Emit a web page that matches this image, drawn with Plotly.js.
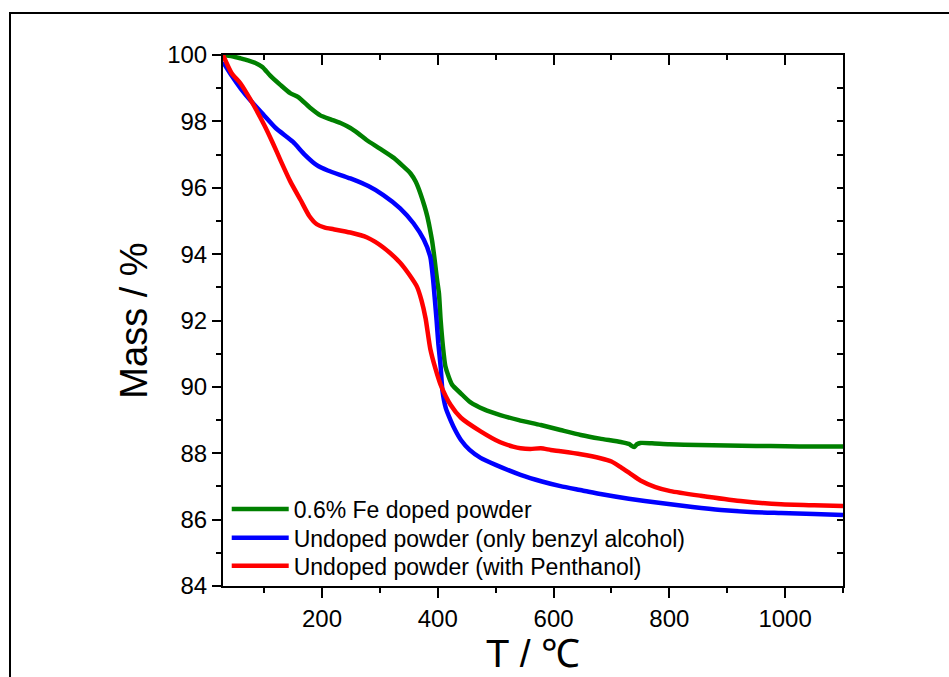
<!DOCTYPE html>
<html>
<head>
<meta charset="utf-8">
<script src="https://cdn.plot.ly/plotly-3.0.1.min.js"></script>
<style>
  html, body { margin: 0; padding: 0; width: 949px; height: 677px; overflow: hidden; background: #fff; }
  #frame { position: absolute; left: 9px; top: 12px; width: 2000px; height: 2000px; border: 2.5px solid #000; box-sizing: border-box; pointer-events: none; z-index: 5; }
  #chart { position: absolute; left: 0; top: 0; width: 949px; height: 677px; }
</style>
</head>
<body>
<div id="chart"></div>
<div id="frame"></div>
<script>
// Temperature (°C) and mass (%)
const greenT = [29, 45, 59, 72, 85, 97, 111, 128, 145, 159, 180, 197, 215, 232, 249, 263, 277, 300, 324, 340, 353, 362, 370, 377, 382, 386, 390, 393, 396, 399, 402, 405, 409, 413, 419, 425, 440, 456, 480, 508, 540, 578, 612, 647, 680, 716, 730, 739, 744, 750, 770, 800, 850, 900, 950, 1000, 1050, 1100];
const greenM = [100.0, 99.96, 99.9, 99.84, 99.76, 99.64, 99.37, 99.1, 98.85, 98.73, 98.4, 98.18, 98.06, 97.95, 97.8, 97.63, 97.44, 97.18, 96.9, 96.65, 96.43, 96.18, 95.83, 95.45, 95.13, 94.8, 94.42, 94.05, 93.62, 93.2, 92.82, 92.0, 91.2, 90.63, 90.3, 90.06, 89.8, 89.54, 89.32, 89.15, 89.0, 88.85, 88.7, 88.55, 88.44, 88.34, 88.28, 88.19, 88.27, 88.31, 88.3, 88.27, 88.25, 88.23, 88.22, 88.21, 88.2, 88.2];

const blueT = [29, 45, 60, 77, 100, 120, 150, 170, 191, 210, 249, 280, 306, 335, 358, 376, 387, 392, 395, 398, 401, 405, 408, 414, 422, 430, 440, 455, 474, 500, 543, 580, 612, 650, 681, 730, 785, 840, 889, 940, 993, 1050, 1100];
const blueM = [99.79, 99.35, 98.98, 98.62, 98.18, 97.8, 97.38, 97.0, 96.68, 96.52, 96.28, 96.05, 95.78, 95.38, 94.93, 94.43, 93.92, 93.22, 92.62, 92.0, 91.3, 90.6, 89.9, 89.35, 89.0, 88.7, 88.4, 88.1, 87.86, 87.65, 87.35, 87.15, 87.01, 86.88, 86.77, 86.63, 86.5, 86.38, 86.29, 86.23, 86.2, 86.17, 86.14];

const redT = [29, 44, 59, 77, 100, 115, 128, 145, 163, 178, 191, 205, 220, 249, 278, 306, 335, 350, 364, 372, 379, 387, 396, 405, 422, 440, 474, 508, 530, 543, 560, 578, 595, 612, 647, 681, 700, 716, 733, 750, 776, 802, 854, 923, 993, 1050, 1100];
const redM = [100.0, 99.45, 99.15, 98.64, 97.9, 97.35, 96.84, 96.2, 95.63, 95.15, 94.9, 94.8, 94.75, 94.65, 94.5, 94.2, 93.74, 93.4, 93.02, 92.6, 92.06, 91.15, 90.55, 90.06, 89.46, 89.07, 88.66, 88.33, 88.2, 88.15, 88.13, 88.15, 88.1, 88.06, 87.97, 87.85, 87.75, 87.58, 87.38, 87.18, 86.98, 86.86, 86.72, 86.56, 86.46, 86.43, 86.41];

const seriesNames = ["0.6% Fe doped powder", "Undoped powder (only benzyl alcohol)", "Undoped powder (with Penthanol)"];
const seriesColors = ["#008000", "#0000ff", "#ff0000"];

const xTitle = "T / \u2103";
const yTitle = "Mass / %";

const font = "Liberation Sans, Arial, Helvetica, sans-serif";

const lineStyle = c => ({color: c, width: 4.5, shape: "spline", smoothing: 0.6});

const traces = [
  {x: greenT, y: greenM, name: seriesNames[0], line: lineStyle(seriesColors[0]), legend: "legend"},
  {x: blueT, y: blueM, name: seriesNames[1], line: lineStyle(seriesColors[1]), legend: "legend2"},
  {x: redT, y: redM, name: seriesNames[2], line: lineStyle(seriesColors[2]), legend: "legend3"},
  {x: [], y: [], xaxis: "x2", yaxis: "y2", showlegend: false, hoverinfo: "skip"}
].map(t => Object.assign({type: "scatter", mode: "lines"}, t));

const xr = [29, 1100], yr = [84, 100];

const legendBase = (yc) => ({
  x: 0.006, y: yc, xanchor: "left", yanchor: "middle",
  bgcolor: "rgba(0,0,0,0)", borderwidth: 0,
  font: {family: font, size: 23, color: "#000"},
  itemwidth: 57
});

const layout = {
  width: 949, height: 677,
  margin: {l: 223, r: 106, t: 55, b: 91, pad: 0},
  paper_bgcolor: "#fff", plot_bgcolor: "#fff",
  font: {family: font, color: "#000", size: 24},
  showlegend: true,
  legend: legendBase(0.145),
  legend2: legendBase(0.091),
  legend3: legendBase(0.038),
  xaxis: {
    range: xr, showgrid: false, zeroline: false, showline: true, linecolor: "#000", linewidth: 2,
    ticks: "outside", ticklen: 10, tickwidth: 2, tickcolor: "#000", tick0: 0, dtick: 200,
    minor: {dtick: 100, tick0: 0, ticks: "outside", ticklen: 5, tickwidth: 2, tickcolor: "#000"},
    tickfont: {family: font, size: 24, color: "#000"},
    title: {text: xTitle, font: {family: font, size: 39, color: "#000"}, standoff: 4}
  },
  yaxis: {
    range: yr, showgrid: false, zeroline: false, showline: true, linecolor: "#000", linewidth: 2,
    ticks: "outside", ticklen: 9, tickwidth: 2, tickcolor: "#000", tick0: 84, dtick: 2,
    minor: {dtick: 1, tick0: 84, ticks: "outside", ticklen: 5, tickwidth: 2, tickcolor: "#000"},
    tickfont: {family: font, size: 24, color: "#000"},
    title: {text: yTitle, font: {family: font, size: 38, color: "#000"}, standoff: 8}
  },
  xaxis2: {
    range: xr, overlaying: "x", side: "top", showgrid: false, zeroline: false, showline: true,
    linecolor: "#000", linewidth: 2, showticklabels: false,
    ticks: "inside", ticklen: 10, tickwidth: 2, tickcolor: "#000", tick0: 0, dtick: 200,
    minor: {dtick: 100, tick0: 0, ticks: "inside", ticklen: 5, tickwidth: 2, tickcolor: "#000"}
  },
  yaxis2: {
    range: yr, overlaying: "y", side: "right", showgrid: false, zeroline: false, showline: true,
    linecolor: "#000", linewidth: 2, showticklabels: false,
    ticks: "inside", ticklen: 6, tickwidth: 2, tickcolor: "#000", tick0: 84, dtick: 1
  }
};

Plotly.newPlot("chart", traces, layout, {staticPlot: true, displayModeBar: false});
</script>
</body>
</html>
